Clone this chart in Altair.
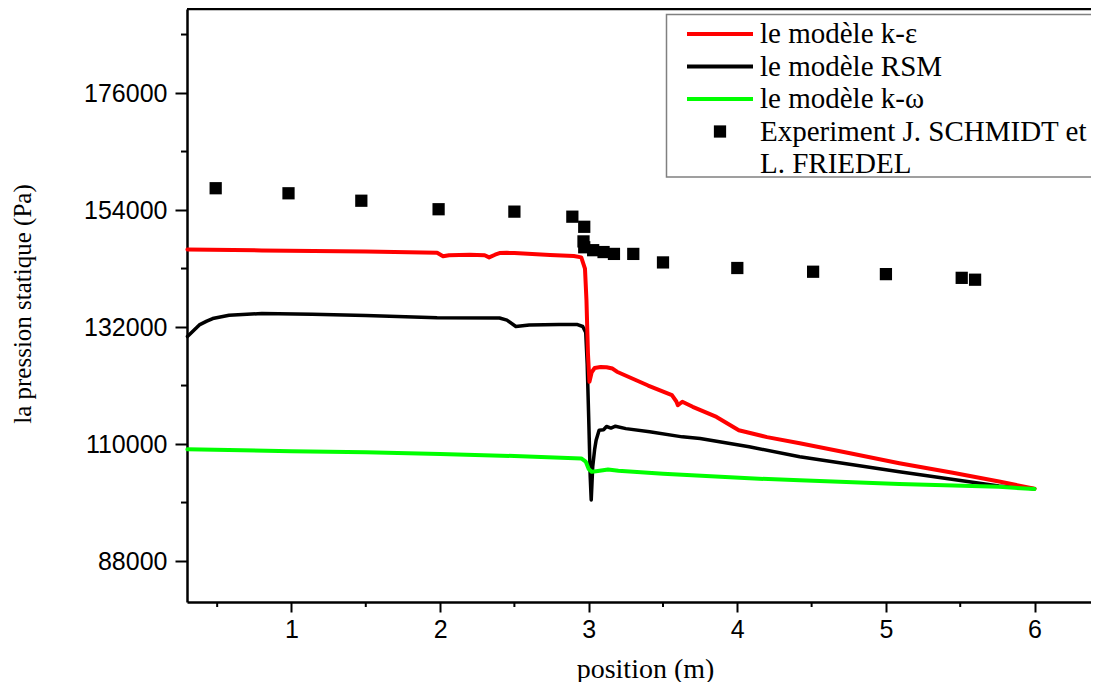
import altair as alt
import pandas as pd

# ---------------- data ----------------
ke_x = [0.30, 0.80, 1.50, 1.98, 2.02, 2.06, 2.20, 2.30, 2.33, 2.37, 2.40, 2.45, 2.50, 2.74, 2.90,
        2.95, 2.975, 2.985, 2.995, 3.005, 3.02, 3.04, 3.08, 3.12, 3.16, 3.19, 3.40, 3.56, 3.59,
        3.60, 3.63, 3.70, 3.86, 4.01, 4.20, 4.42, 4.75, 5.09, 5.45, 5.77, 6.00]
ke_y = [146600, 146400, 146200, 145950, 145300, 145500, 145600, 145500, 145100, 145600, 145900,
        145950, 145900, 145550, 145350, 145100, 143000, 137000, 127000, 121700, 123500, 124300,
        124500, 124450, 124200, 123600, 121000, 119200, 118000, 117300, 117950, 117000, 115100,
        112600, 111300, 110150, 108300, 106400, 104600, 102900, 101600]

rsm_x = [0.30, 0.34, 0.38, 0.43, 0.47, 0.58, 0.80, 1.14, 1.50, 1.98, 2.40, 2.45, 2.51, 2.60, 2.80,
         2.92, 2.96, 2.98, 2.99, 3.00, 3.01, 3.017, 3.027, 3.04, 3.05, 3.07, 3.10, 3.12, 3.15,
         3.18, 3.25, 3.41, 3.63, 3.75, 4.08, 4.42, 5.09, 5.76, 6.00]
rsm_y = [130200, 131300, 132400, 133100, 133600, 134200, 134550, 134400, 134150, 133750, 133700,
         133300, 132100, 132400, 132500, 132500, 132100, 131000, 125000, 115000, 104000, 99500,
         105700, 109000, 110700, 112600, 112700, 113300, 113000, 113350, 112900, 112300, 111350,
         111050, 109500, 107600, 104800, 102100, 101600]

kw_x = [0.30, 1.00, 1.50, 2.00, 2.50, 2.95, 2.98, 3.00, 3.02, 3.05, 3.13, 3.20, 3.50, 4.08, 4.42,
        5.09, 5.76, 6.00]
kw_y = [109000, 108650, 108450, 108150, 107750, 107300, 106700, 105300, 104800, 104900, 105200,
        105000, 104400, 103550, 103200, 102500, 101950, 101550]

exp_x = [0.49, 0.98, 1.47, 1.99, 2.50, 2.89, 2.97, 2.965, 2.97, 3.03, 3.10, 3.17, 3.30, 3.50,
         4.00, 4.51, 5.00, 5.51, 5.60]
exp_y = [158100, 157150, 155750, 154150, 153700, 152750, 150850, 148100, 147000, 146450, 146100,
         145750, 145750, 144150, 143100, 142400, 141950, 141250, 140900]

models = ["le modèle k-ε", "le modèle RSM", "le modèle k-ω"]
model_colors = ["#ff0000", "#000000", "#00ff00"]
exp_label = ["Experiment J. SCHMIDT et", "L. FRIEDEL"]

y_major = [88000, 110000, 132000, 154000, 176000]
y_minor = [99000, 121000, 143000, 165000, 187000]
x_major = [1, 2, 3, 4, 5, 6]
x_minor = [0.5, 1.5, 2.5, 3.5, 4.5, 5.5]

# ---------------- layout ----------------
W, H = 904, 593
X_DOMAIN = [0.297, 6.380]
Y_DOMAIN = [80300, 191800]
SANS = "Liberation Sans"
SERIF = "Liberation Serif"

x_axis = alt.Axis(
    values=x_major, format="d",
    labelFont=SANS, labelFontSize=25, labelColor="black", labelFlush=False,
    labelPadding=5, labelOverlap=False,
    tickColor="black", tickWidth=2, tickSize=10,
    domainColor="black", domainWidth=2.5, grid=False,
    title="position (m)", titleFont=SERIF, titleFontSize=28, titleFontWeight="normal",
    titleColor="black", titleX=458, titleY=75, titleAlign="center",
    titleBaseline="alphabetic",
)
y_axis = alt.Axis(
    values=y_major, format="d",
    labelFont=SANS, labelFontSize=25, labelColor="black", labelFlush=False,
    labelPadding=8, labelOverlap=False,
    tickColor="black", tickWidth=2, tickSize=12,
    domainColor="black", domainWidth=2.5, grid=False,
    title="la pression statique (Pa)", titleFont=SERIF, titleFontSize=25,
    titleFontWeight="normal", titleColor="black", titleX=-164.5, titleY=294.5,
    titleAngle=270, titleAlign="center", titleBaseline="middle",
)

xs = alt.Scale(domain=X_DOMAIN, nice=False, zero=False)
ys = alt.Scale(domain=Y_DOMAIN, nice=False, zero=False)


def series_layer(xv, yv, color, width):
    df = pd.DataFrame({"x": xv, "y": yv, "o": range(len(xv))})
    return alt.Chart(df).mark_line(color=color, strokeWidth=width, strokeJoin="round",
                                   strokeCap="round").encode(
        x=alt.X("x:Q", scale=xs, axis=x_axis),
        y=alt.Y("y:Q", scale=ys, axis=y_axis),
        order="o:Q",
    )


rsm = series_layer(rsm_x, rsm_y, model_colors[1], 3.5)
ke = series_layer(ke_x, ke_y, model_colors[0], 4)
kw = series_layer(kw_x, kw_y, model_colors[2], 4)

exp = alt.Chart(pd.DataFrame({"x": exp_x, "y": exp_y})).mark_point(
    shape="square", filled=True, color="black", size=150, opacity=1
).encode(
    x=alt.X("x:Q", scale=xs, axis=x_axis),
    y=alt.Y("y:Q", scale=ys, axis=y_axis),
)

# minor ticks (positions from the tick lists through the scales)
x_minor_ticks = alt.Chart(pd.DataFrame({"v": x_minor})).mark_rule(
    color="black", strokeWidth=2
).encode(x=alt.X("v:Q", scale=xs, axis=x_axis), y=alt.value(H), y2=alt.value(H + 5))

y_minor_ticks = alt.Chart(pd.DataFrame({"v": y_minor})).mark_rule(
    color="black", strokeWidth=2
).encode(y=alt.Y("v:Q", scale=ys, axis=y_axis), x=alt.value(0), x2=alt.value(-6))

top_border = alt.Chart(pd.DataFrame({"a": [0]})).mark_rule(
    color="black", strokeWidth=2.5
).encode(x=alt.value(0), x2=alt.value(W), y=alt.value(0))

# ---------------- legend (drawn in pixel space) ----------------
legend_box = alt.Chart(pd.DataFrame({"a": [0]})).mark_rect(
    fill="white", stroke="#808080", strokeWidth=1.5
).encode(x=alt.value(479.5), x2=alt.value(W + 30), y=alt.value(5.5), y2=alt.value(168))

leg_lines_df = pd.DataFrame({"model": models, "i": range(len(models))})
leg_lines = alt.Chart(leg_lines_df).transform_calculate(
    py="25 + 32.5 * datum.i"
).mark_rule(strokeWidth=4).encode(
    x=alt.value(500), x2=alt.value(566),
    y=alt.Y("py:Q", scale=None, axis=None),
    color=alt.Color("model:N", scale=alt.Scale(domain=models, range=model_colors), legend=None),
)

leg_text_df = pd.DataFrame({"label": models + exp_label, "i": range(len(models) + len(exp_label))})
leg_text = alt.Chart(leg_text_df).transform_calculate(
    py="25 + 32.5 * datum.i"
).mark_text(align="left", baseline="middle", font=SERIF, fontSize=29, color="black").encode(
    x=alt.value(573),
    y=alt.Y("py:Q", scale=None, axis=None),
    text="label:N",
)

leg_sq = alt.Chart(pd.DataFrame({"i": [len(models)]})).transform_calculate(
    py="25 + 32.5 * datum.i"
).mark_point(shape="square", filled=True, color="black", size=150, opacity=1).encode(
    x=alt.value(533),
    y=alt.Y("py:Q", scale=None, axis=None),
)

chart = alt.layer(
    rsm, ke, kw, exp, x_minor_ticks, y_minor_ticks, top_border,
    legend_box, leg_lines, leg_text, leg_sq
).properties(
    width=W, height=H,
    autosize=alt.AutoSizeParams(type="none"),
    padding={"left": 179, "top": 1, "right": 0, "bottom": 80},
    background="white",
).configure_view(stroke=None)

chart.save("out.html", embed_options={"renderer": "svg", "actions": False})
